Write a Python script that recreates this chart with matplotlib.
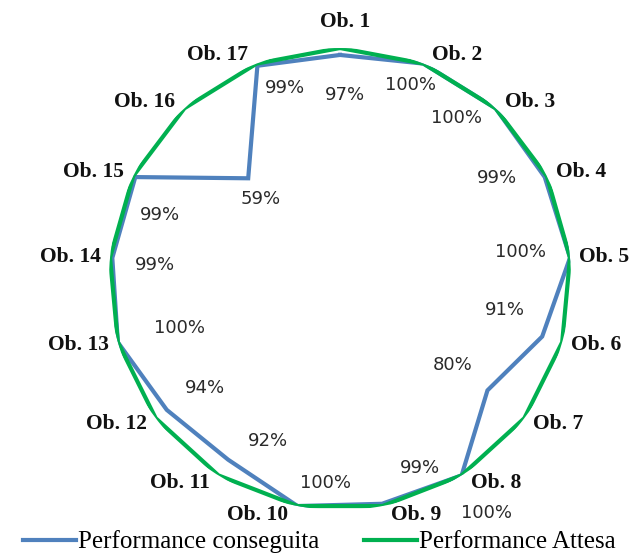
import numpy as np
import matplotlib
matplotlib.use("Agg")
import matplotlib.pyplot as plt

# categories and values
categories = ["Ob. %d" % i for i in range(1, 18)]
conseguita = [0.97, 1.00, 1.00, 0.99, 1.00, 0.91, 0.80, 1.00, 0.99,
              1.00, 0.92, 0.94, 1.00, 0.99, 0.99, 0.59, 0.99]
attesa = [1.0] * 17

# offsets (pixels, x right / y down) of the % labels from each point
pct_offsets = [(5, 40), (-13, 21), (-39, 10), (-48, 1), (-50, -6),
               (-37, -27), (-35, -25), (25, 38), (38, -36), (28, -23),
               (40, -19), (38, -22), (62, -14), (43, 7), (25, 38),
               (12, 21), (28, 22)]

BLUE = "#4F81BD"
GREEN = "#00B050"
SERIF = ["Liberation Serif", "DejaVu Serif"]

n = len(categories)
theta = np.arange(n) * 2 * np.pi / n

fig = plt.figure(figsize=(6.39, 5.57), dpi=100)
ax = fig.add_axes([0.1706, 0.0844, 0.723, 0.8294], projection="polar")
ax.set_theta_offset(np.pi / 2)
ax.set_theta_direction(-1)
ax.set_ylim(0, 1)
ax.grid(False)
ax.spines["polar"].set_visible(False)
ax.set_xticks([])
ax.set_yticks([])
ax.patch.set_visible(False)

t_closed = np.append(theta, theta[0])
ax.plot(t_closed, conseguita + conseguita[:1], color=BLUE, lw=3.0,
        solid_joinstyle="miter", label="Performance conseguita", zorder=2)
ax.plot(t_closed, attesa + attesa[:1], color=GREEN, lw=3.0,
        solid_joinstyle="miter", label="Performance Attesa", zorder=3)

# percentage labels
for t, v, (dx, dy) in zip(theta, conseguita, pct_offsets):
    ax.annotate("%d%%" % round(v * 100), xy=(t, v), xytext=(dx, -dy),
                textcoords="offset pixels", ha="center", va="center",
                fontsize=13, color="#2a2a2a", family="DejaVu Sans",
                zorder=5)

# category labels
for i, (t, lab) in enumerate(zip(theta, categories)):
    ang = np.pi / 2 - t
    s = np.sin(ang)
    c = np.cos(ang)
    if i == 0:
        ha, dx, dy = "center", 5, 26
    elif c > 0:
        ha, dx, dy = "left", 9, 9 * s
    else:
        ha, dx, dy = "right", -9, 9 * s
    ax.annotate(lab, xy=(t, 1.0), xytext=(dx, dy), textcoords="offset pixels",
                ha=ha, va="center", fontsize=15.5, fontweight="bold",
                family=SERIF, color="#111111", zorder=6)

fig.legend(loc="lower center", bbox_to_anchor=(0.5, -0.034), ncol=2,
           frameon=False, handlelength=2.1, handletextpad=0.1,
           columnspacing=1.8, prop={"family": SERIF, "size": 18})

plt.savefig("out.png", dpi=100)
